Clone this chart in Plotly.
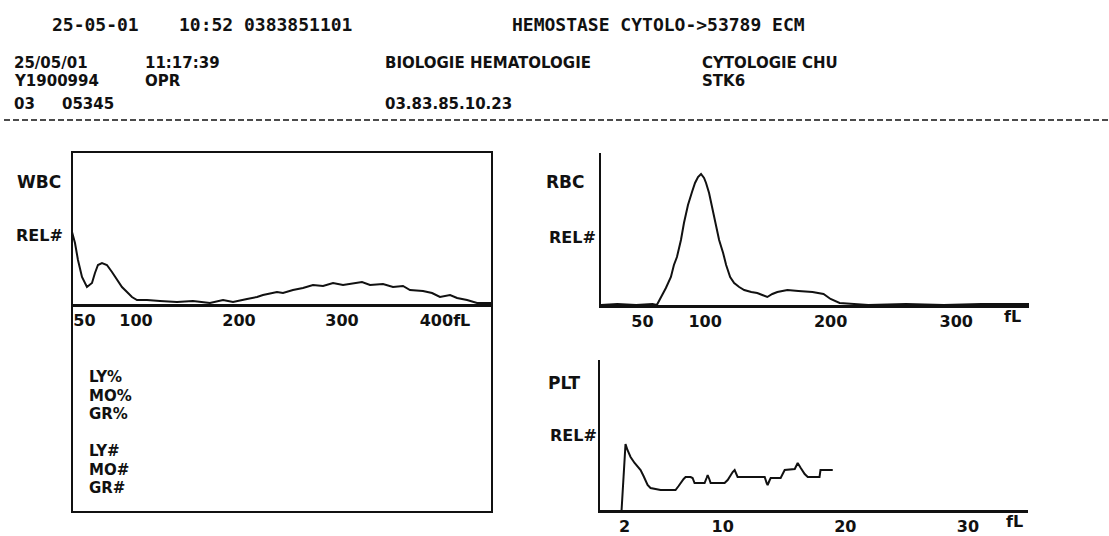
import plotly.graph_objects as go

W, H = 1109, 536

# ---------------- histogram data ----------------
# WBC volume histogram (fL vs relative count)
wbc_fl = [37.9, 40.8, 43.7, 47.6, 52.4, 57.3, 60.2, 63.1, 67.0, 71.8, 76.7, 81.6,
          86.4, 91.3, 96.1, 101.0, 110.7, 123.3, 139.8, 155.3, 171.8, 184.5, 194.2,
          207.8, 217.5, 223.3, 236.9, 242.7, 252.4, 262.1, 271.8, 281.6, 291.3,
          301.0, 307.8, 319.4, 327.2, 339.8, 349.5, 359.2, 366.0, 378.6, 387.4,
          395.1, 404.9, 411.7, 421.4, 431.1, 436.9, 445.0]
wbc_rel = [72, 61, 44, 27, 17, 21, 31, 39, 41, 39, 32, 24,
           17, 12, 7, 4, 4, 3, 2, 3, 1, 4, 2,
           5, 7, 9, 12, 11, 14, 16, 19, 18, 21,
           19, 20, 22, 19, 20, 17, 18, 14, 13, 11,
           7, 9, 6, 4, 1, 1, 1]

# RBC volume histogram
rbc_fl = [17, 30, 45, 58, 61.5, 64.7, 68.7, 72.7, 75.1, 77.5, 80.7, 83.1, 86.3,
          89.5, 91.9, 94.3, 96.7, 99.1, 100.7, 103.1, 104.7, 107.1, 108.7, 111.1,
          114.3, 116.7, 119.9, 123.1, 127.1, 131.1, 136.7, 141.5, 145.5, 149.5,
          153.5, 157.5, 161.5, 165.5, 174.3, 185.5, 194.3, 199.9, 207.1, 230,
          260, 290, 320, 358]
rbc_rel = [0, 1, 0, 1, 0, 7, 17, 28, 40, 48, 65, 82, 100,
           113, 122, 128, 131, 127, 122, 112, 102, 90, 78, 65,
           52, 40, 28, 22, 18, 15, 13, 12, 10, 8,
           11, 13, 14, 15, 14, 13, 11, 6, 2, 0,
           1, 0, 1, 1]

# PLT volume histogram
plt_fl = [1.76, 1.92, 2.08, 2.24, 2.49, 2.82, 3.06, 3.31, 3.55, 3.71, 3.88, 4.12,
          4.45, 4.94, 5.51, 6.16, 6.41, 6.57, 6.82, 6.98, 7.39, 7.55, 7.71, 8.20,
          8.53, 8.69, 8.78, 8.94, 9.02, 9.59, 10.16, 10.41, 10.65, 10.82, 10.98,
          11.22, 12.04, 12.86, 13.43, 13.59, 13.67, 13.84, 13.92, 14.73, 14.90,
          15.06, 15.88, 16.12, 16.37, 16.69, 16.94, 17.90, 17.98, 18.98]
plt_rel = [0, 40, 66, 60, 53, 47, 44, 40, 34, 30, 25, 22,
           21, 20, 20, 20, 24, 27, 31, 33, 33, 32, 27, 27,
           27, 32, 35, 30, 27, 27, 27, 30, 35, 38, 40,
           33, 33, 33, 33, 27, 25, 30, 32, 32, 36,
           40, 41, 47, 42, 36, 33, 33, 40, 40]

# axis tick labels
wbc_ticks = [50, 100, 200, 300, 400]
wbc_ticktext = ["50", "100", "200", "300", "400fL"]
rbc_ticks = [50, 100, 200, 300]
rbc_ticktext = ["50", "100", "200", "300"]
plt_ticks = [2, 10, 20, 30]
plt_ticktext = ["2", "10", "20", "30"]

# header / report text
header_top = [("25-05-01", 50), ("10:52 0383851101", 177), ("HEMOSTASE CYTOLO->53789 ECM", 510)]
header_rows = [
    [("25/05/01", 12), ("11:17:39", 143), ("BIOLOGIE HEMATOLOGIE", 383), ("CYTOLOGIE CHU", 700)],
    [("Y1900994", 12), ("OPR", 143), ("STK6", 700)],
    [("03", 12), ("05345", 60), ("03.83.85.10.23", 383)],
]
diff_labels = ["LY%", "MO%", "GR%", "", "LY#", "MO#", "GR#"]

INK = "#111111"
SANS = "DejaVu Sans"
MONO = "DejaVu Sans Mono"


def px(x):
    return x / W


def py(y):
    return 1 - y / H


fig = go.Figure()

fig.add_trace(go.Scatter(x=wbc_fl, y=wbc_rel, mode="lines", xaxis="x", yaxis="y",
                         line=dict(color=INK, width=2), showlegend=False))
fig.add_trace(go.Scatter(x=rbc_fl, y=rbc_rel, mode="lines", xaxis="x2", yaxis="y2",
                         line=dict(color=INK, width=2), showlegend=False))
fig.add_trace(go.Scatter(x=plt_fl, y=plt_rel, mode="lines", xaxis="x3", yaxis="y3",
                         line=dict(color=INK, width=2), showlegend=False))


def xaxis(dom, rng, tv, tt, anchor):
    return dict(domain=dom, range=rng, tickvals=tv, anchor=anchor,
                ticktext=[f"<b>{t}</b>" for t in tt],
                showline=True, linecolor=INK, linewidth=3, ticks="",
                showgrid=False, zeroline=False, fixedrange=True,
                tickfont=dict(family=SANS, size=16, color=INK))


def yaxis(dom, rng, anchor, show_line):
    return dict(domain=dom, range=rng, anchor=anchor, showline=show_line,
                linecolor=INK, linewidth=2, showticklabels=False, ticks="",
                showgrid=False, zeroline=False, fixedrange=True)


fig.update_layout(
    width=W, height=H, margin=dict(l=0, r=0, t=0, b=0),
    paper_bgcolor="white", plot_bgcolor="rgba(0,0,0,0)",
    xaxis=xaxis([px(72), px(492)], [37.9, 445.6], wbc_ticks, wbc_ticktext, "y"),
    yaxis=yaxis([py(304), py(152)], [0, 152], "x", False),
    xaxis2=xaxis([px(601), px(1029)], [17, 358], rbc_ticks, rbc_ticktext, "y2"),
    yaxis2=yaxis([py(305), py(153)], [0, 152], "x2", True),
    xaxis3=xaxis([px(600), px(1028)], [0, 34.9], plt_ticks, plt_ticktext, "y3"),
    yaxis3=yaxis([py(510), py(360)], [0, 150], "x3", True),
)

# WBC frame (upper histogram area + differential area below)
fig.add_shape(type="rect", xref="paper", yref="paper",
              x0=px(72), x1=px(492), y0=py(512), y1=py(152),
              line=dict(color=INK, width=2))

# dashed separator
fig.add_shape(type="line", xref="paper", yref="paper",
              x0=px(4), x1=px(1109), y0=py(120), y1=py(120),
              line=dict(color=INK, width=1.5, dash="6px,3px"))

ann = []
for text, x0 in header_top:
    ann.append(dict(text=f"<b>{text}</b>", x=px(x0), y=py(24), xanchor="left", yanchor="middle",
                    font=dict(family=MONO, size=18, color=INK)))
for row, yy in zip(header_rows, [63, 81, 104]):
    for text, x0 in row:
        ann.append(dict(text=f"<b>{text}</b>", x=px(x0), y=py(yy), xanchor="left",
                        yanchor="middle", font=dict(family=SANS, size=15, color=INK)))

# panel labels
labels = [("WBC", 63, 182, 17), ("REL#", 65, 235, 16), ("RBC", 587, 182, 17),
          ("REL#", 598, 237, 16), ("PLT", 582, 383, 17), ("REL#", 599, 435, 16)]
for text, x1, yy, fs in labels:
    ann.append(dict(text=f"<b>{text}</b>", x=px(x1), y=py(yy), xanchor="right",
                    yanchor="middle", font=dict(family=SANS, size=fs, color=INK)))

# unit labels after the last tick
ann.append(dict(text="<b>fL</b>", x=px(1012), y=py(316), xanchor="center", yanchor="middle",
                font=dict(family=SANS, size=16, color=INK)))
ann.append(dict(text="<b>fL</b>", x=px(1014), y=py(521), xanchor="center", yanchor="middle",
                font=dict(family=SANS, size=16, color=INK)))

# differential captions inside the lower WBC area
for i, t in enumerate(diff_labels):
    if t:
        ann.append(dict(text=f"<b>{t}</b>", x=px(87), y=py(377 + i * 18.5), xanchor="left",
                        yanchor="middle", font=dict(family=SANS, size=15, color=INK)))

for a in ann:
    a.update(xref="paper", yref="paper", showarrow=False)
fig.update_layout(annotations=ann)

fig.write_html("out.html")
